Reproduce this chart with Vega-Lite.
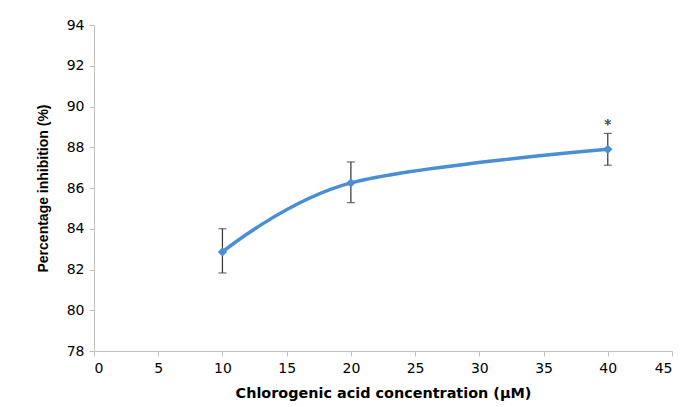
{
  "$schema": "https://vega.github.io/schema/vega-lite/v6.json",
  "width": 578,
  "height": 326,
  "autosize": {"type": "none"},
  "padding": {"left": 94, "top": 25, "right": 14, "bottom": 56},
  "background": "white",
  "config": {"view": {"stroke": null}},
  "data": {
    "values": [
      {"conc": 10, "inhibition": 82.86, "low": 81.83, "high": 84.0},
      {"conc": 20, "inhibition": 86.25, "low": 85.28, "high": 87.28},
      {"conc": 40, "inhibition": 87.9, "low": 87.12, "high": 88.68}
    ]
  },
  "encoding": {
    "x": {
      "field": "conc",
      "type": "quantitative",
      "scale": {"domain": [0, 45], "nice": false},
      "axis": {
        "title": "Chlorogenic acid concentration (μM)",
        "values": [0, 5, 10, 15, 20, 25, 30, 35, 40, 45],
        "grid": false,
        "domainColor": "#c0c0c0",
        "tickColor": "#c0c0c0",
        "tickSize": 5,
        "labelPadding": 5,
        "labelFont": "DejaVu Sans",
        "labelFontSize": 14,
        "labelColor": "#000000",
        "titleFont": "DejaVu Sans",
        "titleFontSize": 14.4,
        "titleFontWeight": "bold",
        "titleColor": "#000000",
        "titleBaseline": "middle",
        "titleY": 42
      }
    }
  },
  "layer": [
    {
      "mark": {"type": "rule", "color": "#333333", "strokeWidth": 1.2},
      "encoding": {
        "y": {"field": "low", "type": "quantitative"},
        "y2": {"field": "high"}
      }
    },
    {
      "mark": {"type": "tick", "orient": "horizontal", "color": "#333333", "size": 8, "thickness": 1.2},
      "encoding": {"y": {"field": "low", "type": "quantitative"}}
    },
    {
      "mark": {"type": "tick", "orient": "horizontal", "color": "#333333", "size": 8, "thickness": 1.2},
      "encoding": {"y": {"field": "high", "type": "quantitative"}}
    },
    {
      "mark": {"type": "line", "color": "#4a8ed6", "strokeWidth": 3.5, "interpolate": "cardinal"},
      "encoding": {
        "y": {
          "field": "inhibition",
          "type": "quantitative",
          "scale": {"domain": [78, 94], "nice": false, "zero": false},
          "axis": {
            "title": "Percentage inhibition (%)",
            "values": [78, 80, 82, 84, 86, 88, 90, 92, 94],
            "grid": false,
            "domainColor": "#c0c0c0",
            "tickColor": "#c0c0c0",
            "tickSize": 5,
            "labelPadding": 5,
            "labelFont": "DejaVu Sans",
            "labelFontSize": 14,
            "labelColor": "#000000",
            "titleFont": "Liberation Sans",
            "titleFontSize": 14,
            "titleFontWeight": "bold",
            "titleColor": "#000000",
            "titleBaseline": "middle",
            "titleX": -51,
            "titleY": 163
          }
        }
      }
    },
    {
      "mark": {"type": "point", "shape": "diamond", "filled": true, "color": "#4a8ed6", "opacity": 1, "size": 85},
      "encoding": {"y": {"field": "inhibition", "type": "quantitative"}}
    },
    {
      "mark": {"type": "text", "text": "*", "fontSize": 14, "color": "#555555", "font": "DejaVu Sans", "baseline": "middle", "dy": 3},
      "encoding": {
        "x": {"datum": 40, "type": "quantitative"},
        "y": {"datum": 89.25, "type": "quantitative"}
      }
    }
  ]
}
